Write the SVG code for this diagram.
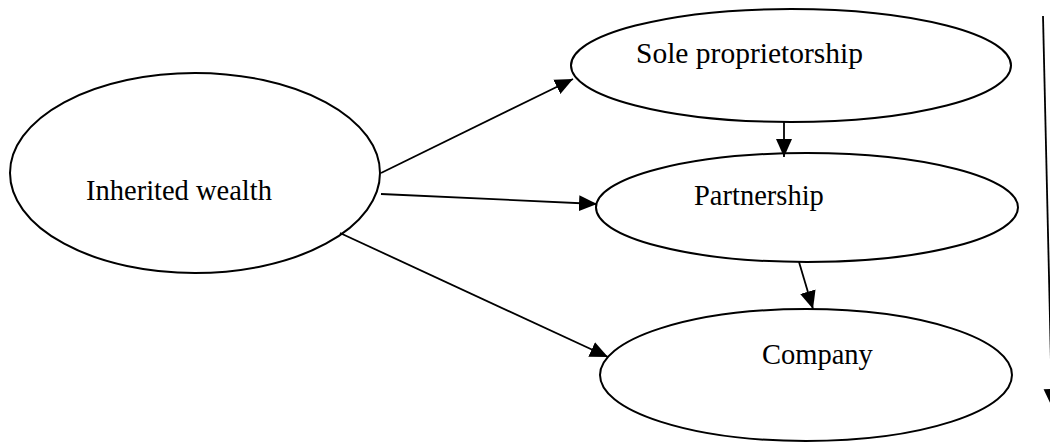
<svg xmlns="http://www.w3.org/2000/svg" width="1050" height="442" viewBox="0 0 1050 442">
<style>
.node{fill:#fff;stroke:#000;stroke-width:2}
.lbl{font-family:"Liberation Serif","Times New Roman",serif;font-size:28.5px;fill:#000}
.conn line{stroke:#000;stroke-width:1.8;fill:none}
</style>
<defs>
<marker id="ah" markerUnits="userSpaceOnUse" markerWidth="20" markerHeight="18" refX="18" refY="9" orient="auto">
<path d="M0,1 L18,9 L0,17 z" fill="#000"/>
</marker>
</defs>
<rect width="1050" height="442" fill="#fff"/>
<g id="n-inherited"><ellipse class="node" cx="195" cy="173" rx="185" ry="100"/><text class="lbl" x="86" y="200">Inherited wealth</text></g>
<g id="n-sole"><ellipse class="node" cx="791" cy="65.5" rx="220" ry="56.5"/><text class="lbl" x="636" y="63" style="font-size:29.5px">Sole proprietorship</text></g>
<g id="n-partnership"><ellipse class="node" cx="807" cy="207.5" rx="211" ry="54.5"/><text class="lbl" x="694" y="205">Partnership</text></g>
<g id="n-company"><ellipse class="node" cx="806" cy="375" rx="206" ry="66"/><text class="lbl" x="762" y="364">Company</text></g>
<g id="connectors" class="conn">
<line x1="381" y1="173" x2="573" y2="79" marker-end="url(#ah)"/>
<line x1="381" y1="194" x2="597" y2="204" marker-end="url(#ah)"/>
<line x1="340" y1="233" x2="608" y2="357" marker-end="url(#ah)"/>
<line x1="784" y1="122" x2="784" y2="157" marker-end="url(#ah)"/>
<line x1="799" y1="262" x2="813" y2="309" marker-end="url(#ah)"/>
<line x1="1043" y1="16" x2="1052" y2="407" marker-end="url(#ah)"/>
</g>
</svg>
